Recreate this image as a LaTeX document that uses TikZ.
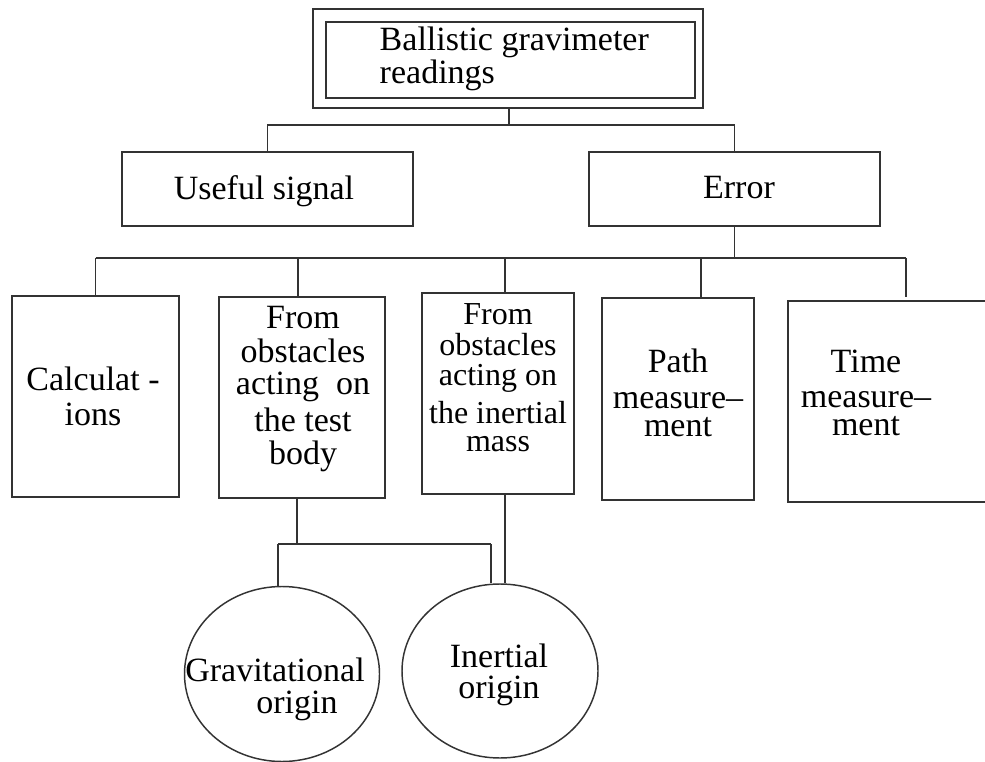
\documentclass[tikz,border=0pt]{standalone}
\usepackage{fontspec}
\setmainfont{Liberation Serif}
\usetikzlibrary{shapes.geometric}
\newcommand{\mlines}[4]{{\fontsize{#1}{#2}\selectfont\begin{tabular}[t]{@{}#3@{}}#4\end{tabular}}}
\begin{document}
\begin{tikzpicture}[x=0.75pt,y=-0.75pt,line width=1.1pt,
  box/.style={draw=black!80,rectangle,inner sep=0pt},
  oval/.style={draw=black!80,ellipse,inner sep=0pt},
  lbl/.style={inner sep=0pt,anchor=base,text=black},
  conn/.style={draw=black!80}]
\useasboundingbox (0,0) rectangle (985,762);
\clip (0,0) rectangle (985,762);
\fill[white] (0,0) rectangle (985,762);
% boxes
\node[box,minimum width=390*0.75pt,minimum height=99*0.75pt] (outer) at (508,58.5) {};
\node[box,minimum width=369*0.75pt,minimum height=76*0.75pt] (inner) at (510.5,60) {};
\node[box,minimum width=291*0.75pt,minimum height=74*0.75pt] (useful) at (267.5,189) {};
\node[box,minimum width=291*0.75pt,minimum height=74*0.75pt] (error) at (734.5,189) {};
\node[box,minimum width=167*0.75pt,minimum height=201*0.75pt] (calc) at (95.5,396.5) {};
\node[box,minimum width=166*0.75pt,minimum height=201*0.75pt] (ft) at (302,397.5) {};
\node[box,minimum width=152*0.75pt,minimum height=201*0.75pt] (fi) at (498,393.5) {};
\node[box,minimum width=152*0.75pt,minimum height=202*0.75pt] (path) at (678,399) {};
\node[box,minimum width=220*0.75pt,minimum height=201*0.75pt] (time) at (898,401.5) {};
\node[oval,minimum width=195*0.75pt,minimum height=175*0.75pt] (grav) at (282,674) {};
\node[oval,minimum width=196*0.75pt,minimum height=174*0.75pt] (inert) at (500,671) {};
% texts
\node[lbl,anchor=base west] (ttop) at (379,51) {\mlines{25.5}{23.5}{l}{Ballistic gravimeter\\readings}};
\node[lbl] (tuseful) at (264,200) {\mlines{25.5}{24}{c}{Useful signal}};
\node[lbl] (terror) at (739,199) {\mlines{25.5}{24}{c}{Error}};
\node[lbl] (tcalc) at (93,391) {\mlines{25.5}{26.25}{c}{Calculat -\\ions}};
\node[lbl] (tft) at (303,329) {\mlines{25.5}{24}{c}{From\\obstacles\\acting\ \ on\\[3pt]the test\\body}};
\node[lbl] (tfi) at (498,325) {\mlines{24}{21}{c}{From\\obstacles\\acting on\\[6pt]the inertial\\mass}};
\node[lbl] (tpath) at (678,373) {\mlines{25.5}{21}{c}{Path\\[6pt]measure–\\ment}};
\node[lbl] (ttime) at (866,373) {\mlines{25.5}{21}{c}{Time\\[5pt]measure–\\ment}};
\node[lbl] (tgrav) at (275,681) {\mlines{25.5}{24}{c}{Gravitational\\\hspace*{33pt}origin}};
\node[lbl] (tinert) at (499,667) {\mlines{25.5}{23.25}{c}{Inertial\\origin}};
% connectors level 1
\coordinate (j1) at (509,125);
\draw[conn] (outer.south -| j1) -- (j1);
\draw[conn] (useful.north) |- (j1) -| (error.north);
% connectors level 2
\coordinate (j2) at (734.5,258);
\coordinate (d1) at (95.5,258);
\coordinate (d2) at (298,258);
\coordinate (d3) at (505,258);
\coordinate (d4) at (701,258);
\coordinate (d5) at (906,258);
\coordinate (d5e) at (906,297);
\draw[conn] (error.south) -- (j2);
\draw[conn] (d1) -- (d5);
\draw[conn] (d1) -- (d1 |- calc.north);
\draw[conn] (d2) -- (d2 |- ft.north);
\draw[conn] (d3) -- (d3 |- fi.north);
\draw[conn] (d4) -- (d4 |- path.north);
\draw[conn] (d5) -- (d5e);
% connectors level 3
\coordinate (b3) at (297,544);
\coordinate (b3l) at (278,544);
\coordinate (b3r) at (491,544);
\coordinate (f3) at (505,544);
\draw[conn] (ft.south -| b3) -- (b3);
\draw[conn] (b3l) -- (b3r);
\draw[conn] (b3l) -- (grav.north -| b3l);
\draw[conn] (b3r) -- (inert.north -| b3r);
\draw[conn] (fi.south -| f3) -- (inert.north -| f3);
\end{tikzpicture}
\end{document}
